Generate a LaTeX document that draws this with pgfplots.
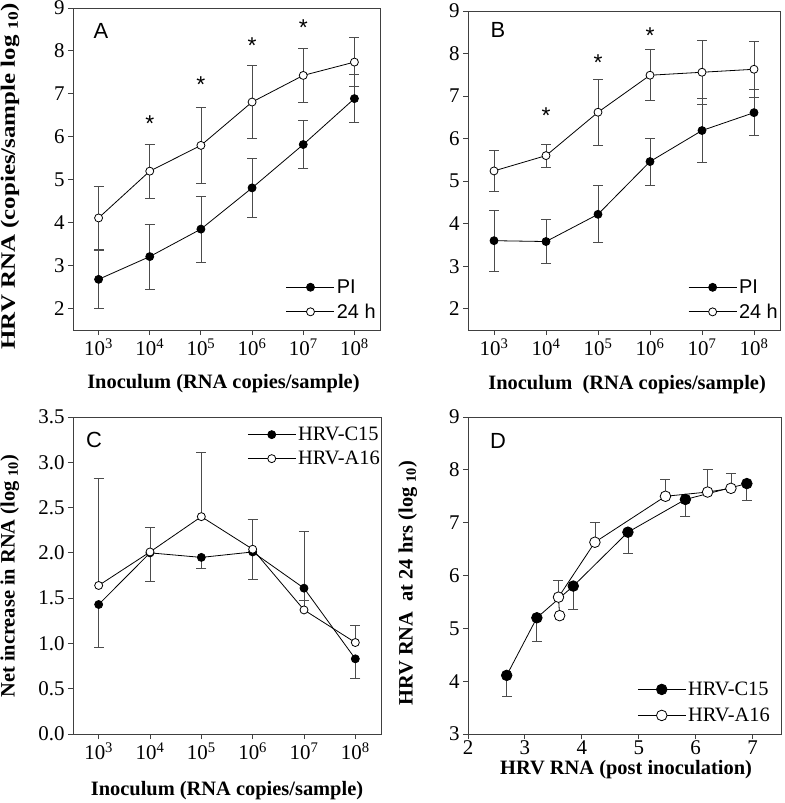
\documentclass[border=0pt]{standalone}
\usepackage{fontspec}
\setmainfont{Liberation Serif}
\newfontfamily\arial{Liberation Sans}
\usepackage{pgfplots}
\pgfplotsset{compat=1.18}
\usetikzlibrary{plotmarks}

\tikzset{letter/.style={font=\arial\fontsize{22}{22}\selectfont}}
\pgfplotsset{
  panel/.style={
    scale only axis,
    anchor=south west,
    axis line style={black!75, line width=0.9bp},
    tick style={black!75, line width=0.9bp},
    tick align=outside,
    major tick length=5bp,
    tick pos=left,
    /pgf/number format/assume math mode=true,
    tick label style={font=\fontsize{21}{24}\selectfont},
    label style={font=\bfseries\fontsize{20.5}{23}\selectfont},
    legend cell align=left,
    legend image code/.code={\draw[mark repeat=2,mark phase=2,##1] plot coordinates {(0bp,0bp) (24bp,0bp) (48bp,0bp)};},
    clip=false,
  },
  catx/.style={xmin=-0.5, xmax=5.5, xtick={0,1,2,3,4,5},
    xticklabels={10\textsuperscript{3},10\textsuperscript{4},10\textsuperscript{5},10\textsuperscript{6},10\textsuperscript{7},10\textsuperscript{8}}},
  errbase/.style={error bars/y explicit,
    error bars/error bar style={black!70, line width=0.8bp},
    error bars/error mark options={rotate=90, black!70, line width=0.8bp, mark size=5bp}},
  filled/.style={black, line width=0.8bp, mark=*, mark size=#1, mark options={fill=black, draw=black, line width=0.8bp}},
  open/.style={black, line width=0.8bp, mark=*, mark size=#1, mark options={fill=white, draw=black, line width=0.8bp}},
  star/.style={only marks, forget plot, mark=text, text mark={*}, text mark as node,
    text mark style={font=\arial\fontsize{23}{23}\selectfont, yshift=-3.5bp}},
}

\begin{document}
\begin{tikzpicture}
\useasboundingbox (0bp,0bp) rectangle (785bp,-803bp);

% ---------------- Panel A ----------------
\begin{axis}[panel, catx,
  at={(73bp,-330bp)}, width=307bp, height=322bp,
  ymin=1.5, ymax=9, ytick={2,3,4,5,6,7,8,9},
  xlabel={Inoculum (RNA copies/sample)},
  ylabel={\scalebox{1.22}[1]{HRV RNA (copies/sample log \textsubscript{10})}},
  xlabel style={at={(axis description cs:0.49,-0.165)}, anchor=center},
  ylabel style={at={(axis description cs:-0.205,0.478)}, anchor=center},
  legend style={draw=none, fill=none, font=\arial\fontsize{20}{22}\selectfont,
    at={(0.993,0.025)}, anchor=south east, inner sep=0bp, row sep=5bp},
]
\addplot+[filled=4bp, errbase, error bars/y dir=both] coordinates {
  (0,2.68) +- (0,0.67)
  (1,3.21) +- (0,0.76)
  (2,3.85) +- (0,0.77)
  (3,4.81) +- (0,0.68)
  (4,5.82) +- (0,0.56)
  (5,6.89) +- (0,0.56)
};
\addlegendentry{PI}
\addplot+[open=4bp, errbase, error bars/y dir=both] coordinates {
  (0,4.11) +- (0,0.73)
  (1,5.20) +- (0,0.63)
  (2,5.80) +- (0,0.88)
  (3,6.81) +- (0,0.85)
  (4,7.43) +- (0,0.64)
  (5,7.74) +- (0,0.57)
};
\addlegendentry{24 h}
\addplot[star] coordinates {(1,6.39) (2,7.30) (3,8.20) (4,8.63)};
\node[letter] at (rel axis cs:0.091,0.93) {A};
\end{axis}

% ---------------- Panel B ----------------
\begin{axis}[panel, catx,
  at={(468bp,-330bp)}, width=312bp, height=319bp,
  ymin=1.5, ymax=9, ytick={2,3,4,5,6,7,8,9},
  xlabel={Inoculum\ \ (RNA copies/sample)},
  xlabel style={at={(axis description cs:0.51,-0.172)}, anchor=center},
  legend style={draw=none, fill=none, font=\arial\fontsize{20}{22}\selectfont,
    at={(1.0,0.025)}, anchor=south east, inner sep=0bp, row sep=5bp},
]
\addplot+[filled=4bp, errbase, error bars/y dir=both] coordinates {
  (0,3.60) +- (0,0.72)
  (1,3.58) +- (0,0.52)
  (2,4.22) +- (0,0.67)
  (3,5.46) +- (0,0.55)
  (4,6.19) +- (0,0.75)
  (5,6.61) +- (0,0.54)
};
\addlegendentry{PI}
\addplot+[open=4bp, errbase, error bars/y dir=both] coordinates {
  (0,5.24) +- (0,0.48)
  (1,5.60) +- (0,0.27)
  (2,6.62) +- (0,0.77)
  (3,7.49) +- (0,0.60)
  (4,7.56) +- (0,0.76)
  (5,7.63) +- (0,0.65)
};
\addlegendentry{24 h}
\addplot[star] coordinates {(1,6.63) (2,7.86) (3,8.50)};
\node[letter] at (rel axis cs:0.096,0.94) {B};
\end{axis}

% ---------------- Panel C ----------------
\begin{axis}[panel,
  at={(73bp,-734bp)}, width=308bp, height=317bp,
  xmin=-0.5, xmax=5.5, xtick={0,1,2,3,4,5},
  xticklabels={10\textsuperscript{3},10\textsuperscript{4},10\textsuperscript{5},10\textsuperscript{6},10\textsuperscript{7},\raisebox{-5bp}{10\textsuperscript{8}}},
  ymin=0, ymax=3.5, ytick={0,0.5,1,1.5,2,2.5,3,3.5},
  yticklabel style={/pgf/number format/.cd, fixed, fixed zerofill, precision=1},
  xlabel={Inoculum (RNA copies/sample)},
  ylabel={Net increase in RNA (log \textsubscript{10})},
  xlabel style={at={(axis description cs:0.50,-0.177)}, anchor=center},
  ylabel style={at={(axis description cs:-0.205,0.498)}, anchor=center},
  legend style={draw=none, fill=none, font=\fontsize{20.5}{23}\selectfont,
    at={(1.003,0.975)}, anchor=north east, inner sep=0bp, row sep=5bp},
]
\addplot+[filled=4bp, errbase, error bars/y dir=minus] coordinates {
  (0,1.43) +- (0,0.47)
  (1,2.00) +- (0,0.31)
  (2,1.95) +- (0,0.12)
  (3,2.01) +- (0,0.30)
  (4,1.61) +- (0,0.14)
  (5,0.83) +- (0,0.22)
};
\addlegendentry{HRV-C15}
\addplot+[open=4bp, errbase, error bars/y dir=plus] coordinates {
  (0,1.64) +- (0,1.18)
  (1,2.01) +- (0,0.27)
  (2,2.40) +- (0,0.71)
  (3,2.04) +- (0,0.33)
  (4,1.37) +- (0,0.87)
  (5,1.01) +- (0,0.19)
};
\addlegendentry{HRV-A16}
\node[letter] at (rel axis cs:0.068,0.927) {C};
\end{axis}

% ---------------- Panel D ----------------
\begin{axis}[panel,
  at={(468bp,-734bp)}, width=313bp, height=317bp,
  xmin=2, xmax=7.5, xtick={2,3,4,5,6,7},
  ymin=3, ymax=9, ytick={3,4,5,6,7,8,9},
  xlabel={HRV RNA (post inoculation)},
  ylabel={HRV RNA\ \ at 24 hrs (log \textsubscript{10})},
  xlabel style={at={(axis description cs:0.505,-0.112)}, anchor=center},
  ylabel style={at={(axis description cs:-0.192,0.476)}, anchor=center},
  xticklabel style={yshift=2bp},
  legend style={draw=none, fill=none, font=\fontsize{20.5}{23}\selectfont,
    at={(0.971,0.028)}, anchor=south east, inner sep=0bp, row sep=7bp},
]
\addplot+[filled=5.3bp, errbase, error bars/y dir=minus] coordinates {
  (2.68,4.11) +- (0,0.39)
  (3.21,5.20) +- (0,0.44)
  (3.85,5.80) +- (0,0.44)
  (4.81,6.82) +- (0,0.41)
  (5.82,7.44) +- (0,0.32)
  (6.90,7.74) +- (0,0.32)
};
\addlegendentry{HRV-C15}
\addplot+[open=5.3bp, errbase, error bars/y dir=plus] coordinates {
  (3.61,5.24) +- (0,0.0)
  (3.59,5.59) +- (0,0.31)
  (4.23,6.63) +- (0,0.38)
  (5.47,7.50) +- (0,0.32)
  (6.21,7.58) +- (0,0.43)
  (6.62,7.65) +- (0,0.29)
};
\addlegendentry{HRV-A16}
\node[letter] at (rel axis cs:0.096,0.924) {D};
\end{axis}
\end{tikzpicture}
\end{document}
